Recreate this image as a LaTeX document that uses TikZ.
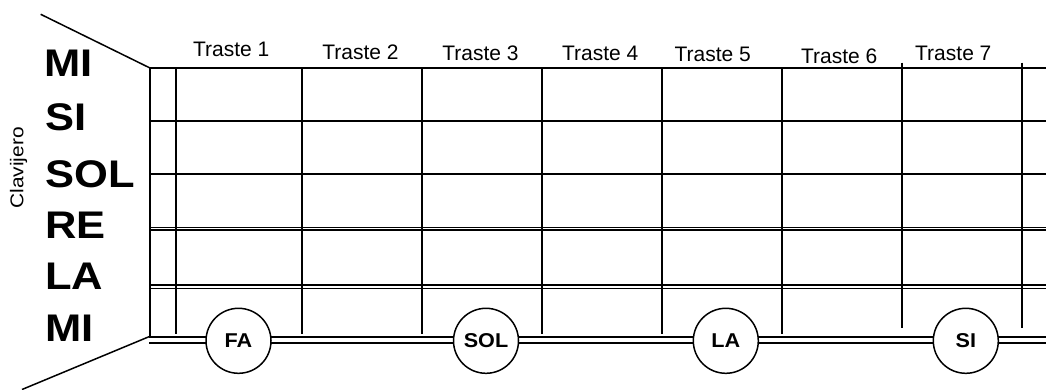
\documentclass[tikz,border=0pt]{standalone}
\usepackage{fontspec}
\setmainfont{Liberation Sans}
\usepackage{graphicx}
\begin{document}
\begin{tikzpicture}[x=1pt,y=-1pt,
  thinstr/.style={line width=2pt},
  fret/.style={line width=1.6pt},
  diag/.style={line width=1.5pt},
  bignote/.style={font=\fontsize{38.5}{40}\bfseries, anchor=base west, inner sep=0pt},
  traste/.style={font=\fontsize{21}{24}\selectfont, anchor=base, inner sep=0pt},
  notecirc/.style={circle, draw, fill=white, line width=1.5pt, minimum size=65pt, inner sep=0pt, font=\fontsize{20}{22}\bfseries}]
\useasboundingbox (0,0) rectangle (1046,389);

% strings
\foreach \y [count=\i] in {68,121,174} {
  \coordinate (s\i w) at (150,\y);
  \coordinate (s\i e) at (1046,\y);
  \draw[thinstr] (s\i w) -- (s\i e);
}
\coordinate (s4w) at (150,228.8); \coordinate (s4e) at (1046,228.8);
\coordinate (s5w) at (150,286.8); \coordinate (s5e) at (1046,286.8);
\coordinate (s6w) at (149,339.7); \coordinate (s6e) at (1046,339.7);
\draw[line width=1.3pt, double, double distance=0.9pt] (s4w) -- (s4e);
\draw[line width=1.6pt, double, double distance=1.7pt] (s5w) -- (s5e);
\draw[line width=2pt, double, double distance=4pt] (s6w) -- (s6e);

% left edge and nut
\coordinate (edget) at (150,67); \coordinate (edgeb) at (150,337);
\draw[fret] (edget) -- (edgeb);
\foreach \x in {176,302,422,542,662,782} {
  \coordinate (f\x t) at (\x,67);
  \coordinate (f\x b) at (\x,334);
  \draw[fret] (f\x t) -- (f\x b);
}
\foreach \x in {902,1022} {
  \coordinate (f\x t) at (\x,62.5);
  \coordinate (f\x b) at (\x,328);
  \draw[fret] (f\x t) -- (f\x b);
}

% headstock diagonals
\coordinate (dtop) at (40.7,14.3);
\coordinate (dbot) at (22,389.5);
\coordinate (cornt) at (150,68);
\coordinate (cornb) at (149,336.7);
\draw[diag] (dtop) -- (cornt);
\draw[diag] (cornb) -- (dbot);

% open string names
\node[bignote] (n1) at (44,76) {\scalebox{1.13}[1]{MI}};
\node[bignote] (n2) at (45,130) {\scalebox{1.13}[1]{SI}};
\node[bignote] (n3) at (45,187) {\scalebox{1.13}[1]{SOL}};
\node[bignote] (n4) at (45,238) {\scalebox{1.13}[1]{RE}};
\node[bignote] (n5) at (45,289) {\scalebox{1.13}[1]{LA}};
\node[bignote] (n6) at (45,341) {\scalebox{1.13}[1]{MI}};

\node[rotate=90, font=\fontsize{18.5}{20}\selectfont, inner sep=0pt] (clav) at (18.5,167.8) {\scalebox{1.13}[1]{Clavijero}};

% fret labels
\node[traste] (t1) at (231.3,56.7) {Traste 1};
\node[traste] (t2) at (360.5,59) {Traste 2};
\node[traste] (t3) at (480.5,60) {Traste 3};
\node[traste] (t4) at (600.3,60) {Traste 4};
\node[traste] (t5) at (712.8,61.7) {Traste 5};
\node[traste] (t6) at (839.2,63.3) {Traste 6};
\node[traste] (t7) at (953.3,60.7) {Traste 7};

% notes on the low string
\node[notecirc] (fa) at (238.5,340.8) {\scalebox{1.08}[1]{FA}};
\node[notecirc] (sol) at (486,340.8) {\scalebox{1.08}[1]{SOL}};
\node[notecirc] (la) at (725.8,340.8) {\scalebox{1.08}[1]{LA}};
\node[notecirc] (si) at (965.8,340.8) {\scalebox{1.08}[1]{SI}};
\end{tikzpicture}
\end{document}
